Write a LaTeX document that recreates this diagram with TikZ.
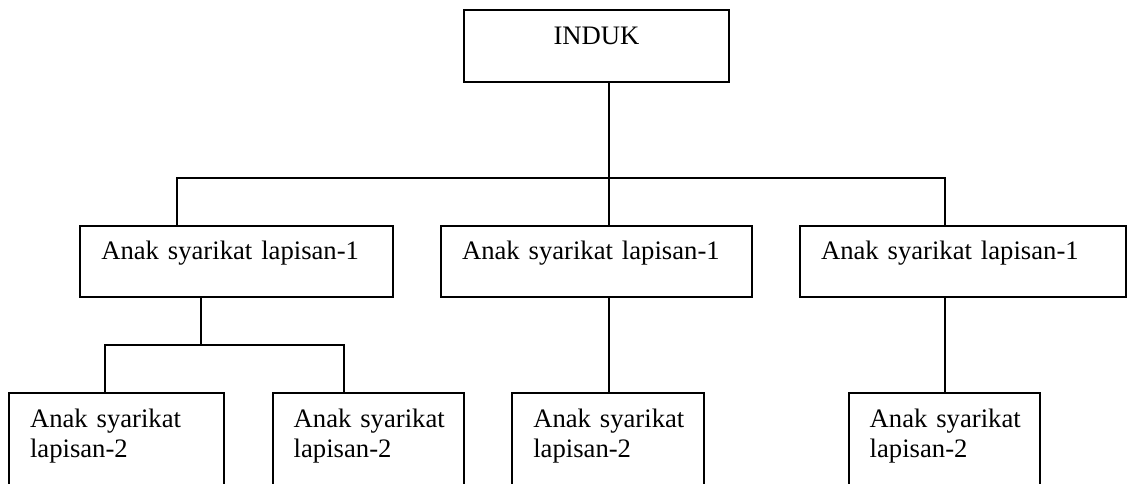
\documentclass[tikz,border=0pt]{standalone}
\usepackage{fontspec}
\setmainfont{Liberation Serif}
\usepackage{tikz}
\usetikzlibrary{calc}

\begin{document}
\begin{tikzpicture}[x=.45pt, y=-.45pt, line width=.85pt]
   \tikzstyle{kotak}=[draw, rectangle, anchor=north west, outer sep=0pt, inner xsep=9.45pt, inner ysep=0pt, align=left, font=\fontsize{12}{13.5}\selectfont]
   \tikzstyle{lapis1}=[kotak, text height=15.4pt, text depth=16.5pt]
   \tikzstyle{lapis2}=[kotak, text height=15.3pt, text depth=33pt]
   \useasboundingbox (0,0) rectangle (1127,484);
   \clip (0,0) rectangle (1127,484);
   %% boxes
\node (induk) at (464.3,10) [kotak, align=center, inner xsep=0pt, minimum width=119pt, text height=15.75pt, text depth=16.5pt] {INDUK};
\node (anak1) at (80.3,225.7) [lapis1, text width=121.8pt] {Anak syarikat lapisan-1};
\node (anak2) at (441,225.7) [lapis1, text width=121.2pt] {Anak syarikat lapisan-1};
\node (anak3) at (800,225.7) [lapis1, text width=127.8pt] {Anak syarikat lapisan-1};
\node (cucu1) at (9,393.3) [lapis2, text width=77.85pt] {Anak~syarikat\\lapisan-2};
\node (cucu2) at (272.7,393.3) [lapis2, text width=67.3pt] {Anak~syarikat\\lapisan-2};
\node (cucu3) at (512.3,393.3) [lapis2, text width=67.4pt] {Anak~syarikat\\lapisan-2};
\node (cucu4) at (848.7,393.3) [lapis2, text width=67.3pt] {Anak~syarikat\\lapisan-2};
   %% junctions
\coordinate (t1) at (608.7,177.7);
\coordinate (b1) at (176.7,177.7);
\coordinate (b3) at (945,177.7);
\coordinate (t2) at (201,345.3);
\coordinate (c1) at (105,345.3);
\coordinate (c2) at (344,345.3);
   %% lines
 \draw (induk.south -| t1) to (t1);
 \draw (anak1.north -| b1) to (b1) to (b3) to (anak3.north -| b3);
 \draw (t1) to (anak2.north -| t1);
 \draw (anak1.south -| t2) to (t2);
 \draw (cucu1.north -| c1) to (c1) to (c2) to (cucu2.north -| c2);
 \draw (anak2.south -| t1) to (cucu3.north -| t1);
 \draw (anak3.south -| b3) to (cucu4.north -| b3);
    \end{tikzpicture}
\end{document}
